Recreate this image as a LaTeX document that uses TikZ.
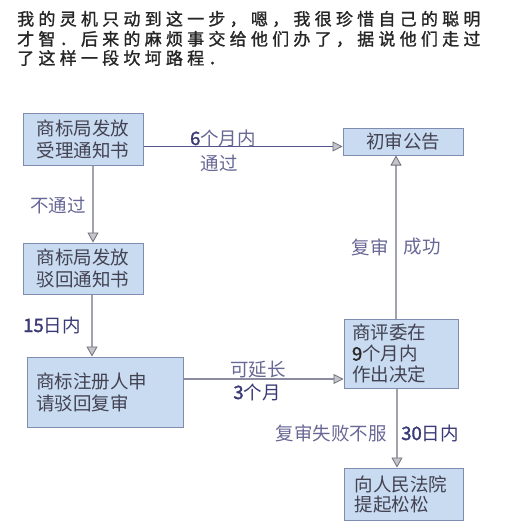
\documentclass[tikz,border=0pt]{standalone}
\usepackage{fontspec}
\setmainfont{Noto Sans CJK SC}
\newfontfamily\introfont[LetterSpace=25, FakeBold=1.2]{Noto Sans CJK SC}
\newfontfamily\digitfont[FakeBold=1.6]{Noto Sans CJK SC}
\usetikzlibrary{arrows.meta}

\definecolor{boxfill}{RGB}{201,219,241}
\definecolor{boxline}{RGB}{128,140,176}
\definecolor{boxtext}{RGB}{66,66,82}
\definecolor{lbltext}{RGB}{104,104,150}
\definecolor{numtext}{RGB}{58,58,118}
\definecolor{edgegray}{RGB}{162,162,172}
\definecolor{edgenavy}{RGB}{84,84,140}
\definecolor{tipfill}{RGB}{196,196,202}
\definecolor{tipline}{RGB}{112,112,124}

\newcommand{\digits}[1]{{\digitfont #1}}

\begin{document}
\begin{tikzpicture}[
    x=1pt, y=-1pt,
    box node/.style={draw=boxline, fill=boxfill, line width=1pt, inner sep=0pt, text=boxtext, font=\fontsize{18.5}{22}\selectfont},
    lbl node/.style={inner sep=0pt, text=lbltext, font=\fontsize{18.5}{21}\selectfont},
    num node/.style={inner sep=0pt, text=numtext, font=\fontsize{18.5}{21}\selectfont},
    main edge/.style={line width=2.6pt, edgegray, -{Triangle[length=10pt, width=11pt, fill=tipfill, color=tipline, line width=0.8pt]}},
    flat edge/.style={line width=1.8pt, edgenavy, -{Triangle[length=10pt, width=10pt, fill=tipfill, color=tipline, line width=0.8pt]}}
]
\useasboundingbox[fill=white] (0,0) rectangle (513,532);

% 开头的几行话
\node[anchor=west, inner sep=0pt, text=black!85, font=\introfont\fontsize{17}{20}\selectfont] (intro1) at (17,19) {我的灵机只动到这一步，嗯，我很珍惜自己的聪明};
\node[anchor=west, inner sep=0pt, text=black!85, font=\introfont\fontsize{17}{20}\selectfont] (intro2) at (17,39) {才智．后来的麻烦事交给他们办了，据说他们走过};
\node[anchor=west, inner sep=0pt, text=black!85, font=\introfont\fontsize{17}{20}\selectfont] (intro3) at (17,58) {了这样一段坎坷路程．};

% 流程方框
\node[box node, minimum width=120pt, minimum height=51pt, align=center] (acc) at (83,139.5) {商标局发放\\受理通知书};
\node[box node, minimum width=120pt, minimum height=51pt, align=center] (rej) at (83,268.5) {商标局发放\\驳回通知书};
\node[box node, minimum width=120pt, minimum height=27pt] (pub) at (403,141.5) {\raisebox{-4pt}{初审公告}};
\node[box node, minimum width=156pt, minimum height=70pt, text width=138pt, align=left] (appl) at (105,392) {商标注册人申\\请驳回复审};
\node[box node, minimum width=114pt, minimum height=69pt, text width=98pt, align=left, font=\fontsize{18.5}{21}\selectfont] (rev) at (401,353.5) {商评委在\\{\color{black!85}\digits{9}}个月内\\作出决定};
\node[box node, minimum width=119pt, minimum height=52pt, text width=98pt, align=left, font=\fontsize{18.5}{20}\selectfont] (court) at (403.5,494) {\raisebox{-4pt}{\parbox{98pt}{向人民法院\\提起松松}}};

% 连线
\draw[flat edge] ([yshift=-7pt]acc.east) -- ([yshift=-7pt]acc.east -| pub.west);
\draw[main edge] ([xshift=10pt]acc.south) -- ([xshift=10pt]acc.south |- rej.north);
\draw[main edge] ([xshift=9pt]rej.south) -- ([xshift=9pt]rej.south |- appl.north);
\draw[flat edge, edgegray!70!edgenavy] ([yshift=13pt]appl.east) -- ([yshift=13pt]appl.east -| rev.west);
\draw[main edge] ([xshift=-5pt]rev.north) -- ([xshift=-5pt]rev.north |- pub.south);
\draw[main edge] ([xshift=-4pt]rev.south) -- ([xshift=-4pt]rev.south |- court.north);

% 连线上的文字
\node[lbl node] (l6m)   at (223,138) {{\color{numtext}\digits{6}}个月内};
\node[lbl node] (lpass) at (219,163) {通过};
\node[lbl node] (lfail) at (58,205)  {不通过};
\node[num node] (l15)   at (52,325)  {\digits{15}日内};
\node[lbl node] (lext)  at (258,370) {可延长};
\node[num node] (l3m)   at (257,392) {\digits{3}个月};
\node[lbl node] (lre)   at (370,247) {复审};
\node[lbl node] (lok)   at (422,247) {成功};
\node[lbl node] (lbad)  at (331,433) {复审失败不服};
\node[num node] (l30)   at (430,433) {\digits{30}日内};

\end{tikzpicture}
\end{document}
